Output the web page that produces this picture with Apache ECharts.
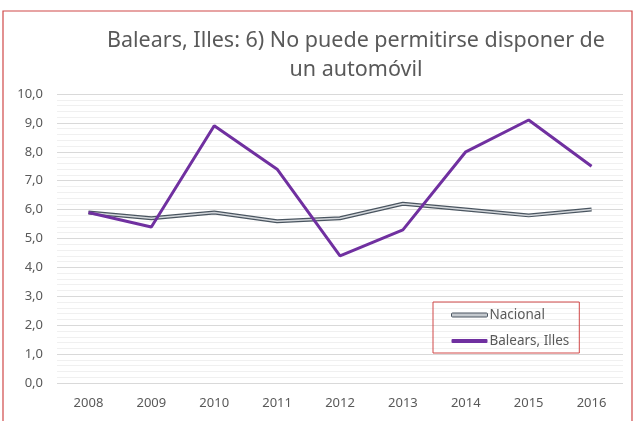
<!DOCTYPE html>
<html>
<head>
<meta charset="utf-8">
<script src="https://cdn.jsdelivr.net/npm/echarts@6/dist/echarts.min.js"></script>
<style>
  html, body { margin: 0; padding: 0; background: #fff; }
  #chart { width: 635px; height: 421px; }
</style>
</head>
<body>
<div id="chart"></div>
<script>
// data
var years = ['2008', '2009', '2010', '2011', '2012', '2013', '2014', '2015', '2016'];
var nacional = [5.9, 5.7, 5.9, 5.6, 5.7, 6.2, 6.0, 5.8, 6.0];
var balears = [5.9, 5.4, 8.9, 7.4, 4.4, 5.3, 8.0, 9.1, 7.5];

var textColor = '#595959';
var font = 'Noto Sans';

var chart = echarts.init(document.getElementById('chart'));
chart.setOption({
  animation: false,
  textStyle: { fontFamily: font },
  title: {
    text: 'Balears, Illes: 6) No puede permitirse disponer de\nun automóvil',
    left: 351,
    top: 21,
    textAlign: 'center',
    textStyle: { fontSize: 21.5, fontWeight: 'normal', color: textColor, lineHeight: 29, fontFamily: font }
  },
  legend: {
    orient: 'vertical',
    left: 433,
    top: 302,
    width: 153,
    height: 50,
    padding: [6, 10, 5, 18],
    itemGap: 12,
    itemWidth: 36,
    itemHeight: 4,
    icon: 'roundRect',
    borderColor: '#d04848',
    borderWidth: 1,
    data: [
      { name: 'Nacional', itemStyle: { color: '#c4c9ce', borderColor: '#4a5560', borderWidth: 1 } },
      { name: 'Balears, Illes', itemStyle: { color: '#7030a0', borderWidth: 0 } }
    ],
    textStyle: { color: textColor, fontSize: 13.5, padding: [0, 0, 0, -3] }
  },
  graphic: [{
    type: 'rect',
    shape: { x: 3, y: 11, width: 629, height: 430 },
    style: { fill: 'none', stroke: '#d04848', lineWidth: 1.2 },
    silent: true
  }],
  grid: { left: 57, right: 12, top: 94, bottom: 38 },
  xAxis: {
    type: 'category',
    data: years,
    boundaryGap: true,
    axisLine: { show: false },
    axisTick: { show: false },
    axisLabel: { color: textColor, fontSize: 13, margin: 14 }
  },
  yAxis: {
    type: 'value',
    min: 0,
    max: 10,
    interval: 1,
    axisLine: { show: false },
    axisTick: { show: false },
    axisLabel: {
      color: textColor,
      fontSize: 13,
      margin: 14,
      formatter: function (v) { return v.toFixed(1).replace('.', ','); }
    },
    splitLine: { lineStyle: { color: '#d9d9d9', width: 1 } },
    minorTick: { show: false, splitNumber: 5 },
    minorSplitLine: { show: true, lineStyle: { color: '#f0f0f0', width: 1 } }
  },
  series: [
    {
      name: 'Nacional',
      type: 'line',
      data: nacional,
      symbol: 'none',
      lineStyle: { color: '#4a5560', width: 4 },
      itemStyle: { color: '#4a5560' },
      z: 2
    },
    {
      name: 'Nacional',
      type: 'line',
      data: nacional,
      symbol: 'none',
      lineStyle: { color: '#d2d6da', width: 1.5 },
      itemStyle: { color: '#d2d6da' },
      z: 3
    },
    {
      name: 'Balears, Illes',
      type: 'line',
      data: balears,
      symbol: 'none',
      lineStyle: { color: '#7030a0', width: 3 },
      itemStyle: { color: '#7030a0' },
      z: 4
    }
  ]
});
</script>
</body>
</html>
